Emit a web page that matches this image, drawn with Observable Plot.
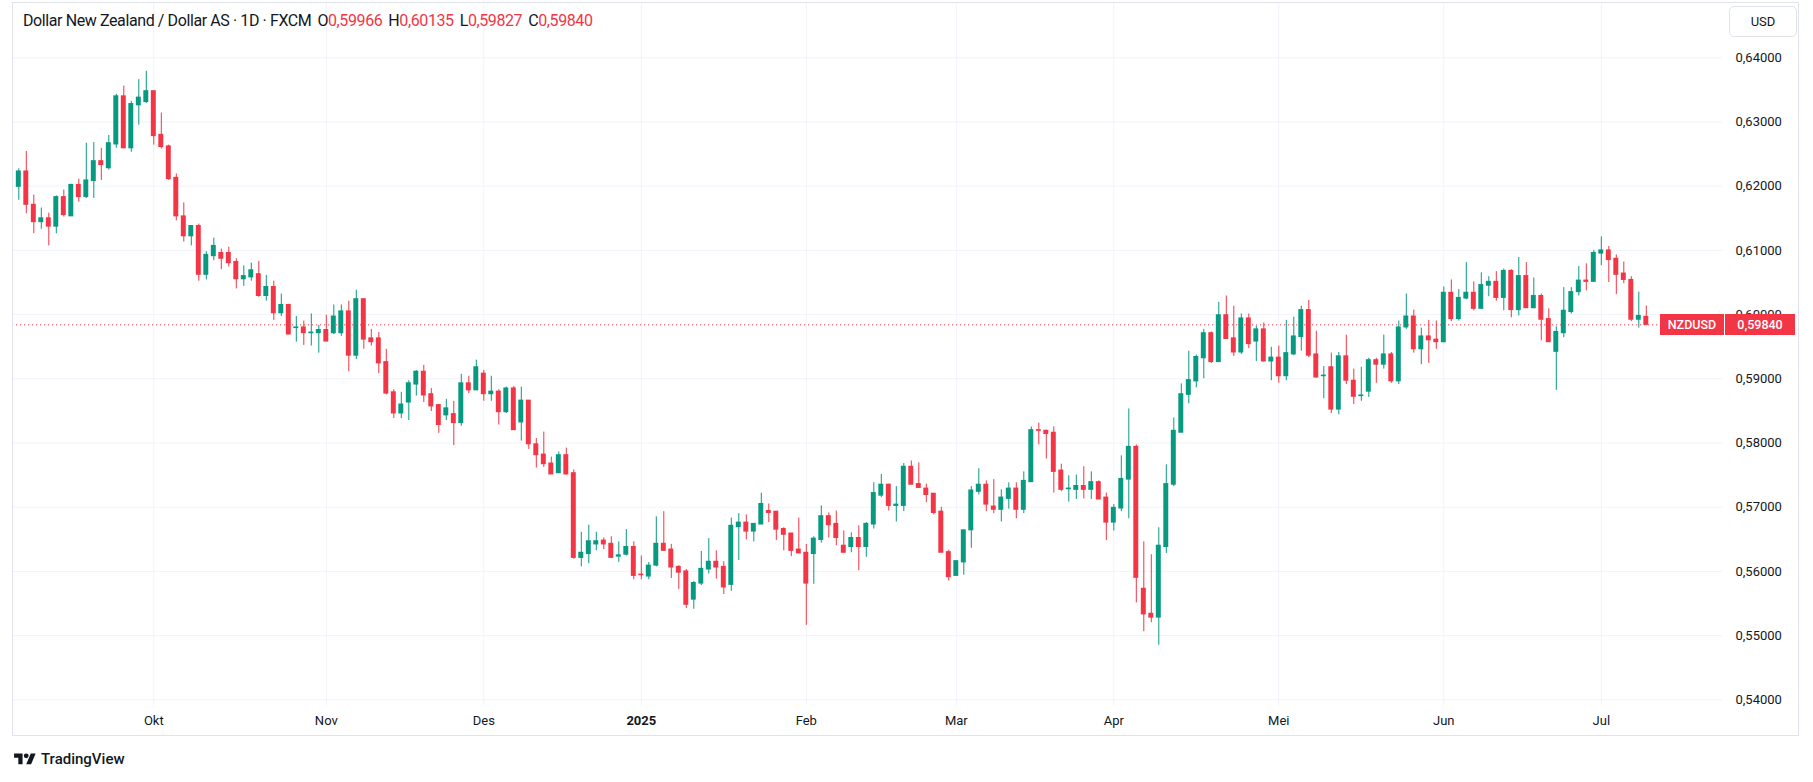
<!DOCTYPE html>
<html><head><meta charset="utf-8">
<script src="https://cdn.jsdelivr.net/npm/d3@7"></script>
<script src="https://cdn.jsdelivr.net/npm/@observablehq/plot@0.6"></script>
<style>
body{margin:0;background:#fff;font-family:Roboto,"Noto Sans",sans-serif;color:#131722;}
#wrap{position:relative;width:1813px;height:782px;overflow:hidden;}
#wrap > svg{position:absolute;left:0;top:0;}
.frame{position:absolute;left:12px;top:2px;width:1787px;height:734px;border:1px solid #e0e3eb;box-sizing:border-box;pointer-events:none;}
.hdr{position:absolute;left:23px;top:11px;font-size:16px;letter-spacing:-0.4px;white-space:pre;color:#131722;}
.hdr .g{margin-left:6px;}
.hdr .r{color:#f23645;}
.usd{position:absolute;left:1729px;top:6px;width:68px;height:31px;border:1px solid #e0e3eb;border-radius:5px;box-sizing:border-box;font-size:13px;display:flex;align-items:center;justify-content:center;background:#fff;}
.tag{position:absolute;height:21px;background:#f23645;color:#fff;font-size:12.5px;font-weight:500;display:flex;align-items:center;justify-content:center;}
.logo{position:absolute;left:14px;top:750px;display:flex;align-items:center;font-size:15px;font-weight:500;color:#131722;}
#wrap .logo svg{position:static;margin-right:5px;}
</style></head><body>
<div id="wrap"></div>
<script>
// ---- data (NZDUSD daily, FXCM) ----
const startDate = "2024-09-05";
const endDate = "2025-07-09";
const holidays = ["2024-12-25", "2025-01-01"];
const monthLabels = ["Okt","Nov","Des","2025","Feb","Mar","Apr","Mei","Jun","Jul"];
const yTicks = [0.54,0.55,0.56,0.57,0.58,0.59,0.60,0.61,0.62,0.63,0.64];
const lastPrice = 0.59840;
const headerOHLC = ["0,59966","0,60135","0,59827","0,59840"];

const openP = [0.6199,0.6223,0.6171,0.6144,0.6150,0.6137,0.6183,0.6153,0.6202,0.6183,
0.6208,0.6239,0.6228,0.6265,0.6340,0.6259,0.6326,0.6331,0.6348,0.6280,
0.6262,0.6213,0.6153,0.6122,0.6138,0.6062,0.6091,0.6096,0.6096,0.6082,
0.6055,0.6058,0.6063,0.6029,0.6043,0.6002,0.6015,0.5979,0.5980,0.5971,
0.5971,0.5976,0.5971,0.5971,0.6005,0.5936,0.6024,0.5963,0.5963,0.5926,
0.5879,0.5846,0.5863,0.5891,0.5911,0.5876,0.5859,0.5843,0.5845,0.5831,
0.5893,0.5882,0.5908,0.5876,0.5880,0.5848,0.5885,0.5832,0.5866,0.5798,
0.5782,0.5768,0.5753,0.5781,0.5753,0.5621,0.5627,0.5642,0.5648,0.5643,
0.5623,0.5626,0.5638,0.5595,0.5592,0.5609,0.5643,0.5634,0.5607,0.5600,
0.5556,0.5581,0.5603,0.5615,0.5607,0.5579,0.5669,0.5676,0.5662,0.5673,
0.5694,0.5693,0.5666,0.5659,0.5634,0.5629,0.5627,0.5649,0.5686,0.5674,
0.5640,0.5638,0.5652,0.5638,0.5673,0.5718,0.5735,0.5702,0.5702,0.5763,
0.5736,0.5729,0.5721,0.5693,0.5630,0.5593,0.5614,0.5664,0.5724,0.5735,
0.5701,0.5696,0.5713,0.5729,0.5696,0.5739,0.5820,0.5819,0.5816,0.5757,
0.5728,0.5727,0.5733,0.5727,0.5739,0.5715,0.5676,0.5698,0.5743,0.5794,
0.5573,0.5534,0.5528,0.5638,0.5735,0.5816,0.5875,0.5896,0.5932,0.5971,
0.5926,0.5999,0.5963,0.5941,0.5994,0.5958,0.5977,0.5927,0.5933,0.5904,
0.5938,0.5965,0.6007,0.5938,0.5904,0.5918,0.5852,0.5935,0.5897,0.5873,
0.5880,0.5929,0.5922,0.5938,0.5896,0.5980,0.5997,0.5946,0.5966,0.5961,
0.5957,0.6034,0.5993,0.6025,0.6034,0.6009,0.6045,0.6051,0.6026,0.6068,
0.6007,0.6060,0.6010,0.6029,0.5993,0.5942,0.5971,0.6004,0.6035,0.6053,
0.6051,0.6095,0.6100,0.6087,0.6064,0.6054,0.5992,0.59966];

const highP = [0.6227,0.6254,0.6186,0.6166,0.6158,0.6185,0.6194,0.6203,0.6211,0.6267,
0.6268,0.6259,0.6279,0.6343,0.6356,0.6332,0.6366,0.6379,0.6348,0.6314,
0.6264,0.6219,0.6174,0.6138,0.6141,0.6098,0.6119,0.6102,0.6105,0.6087,
0.6076,0.6080,0.6083,0.6061,0.6052,0.6032,0.6016,0.5997,0.5990,0.6001,
0.5983,0.5999,0.6015,0.6015,0.6021,0.6038,0.6024,0.5977,0.5972,0.5946,
0.5883,0.5879,0.5897,0.5913,0.5921,0.5885,0.5860,0.5868,0.5865,0.5907,
0.5904,0.5929,0.5913,0.5904,0.5883,0.5887,0.5888,0.5887,0.5866,0.5807,
0.5817,0.5778,0.5786,0.5792,0.5758,0.5661,0.5672,0.5661,0.5652,0.5654,
0.5646,0.5665,0.5646,0.5624,0.5614,0.5685,0.5693,0.5642,0.5609,0.5603,
0.5584,0.5631,0.5651,0.5632,0.5615,0.5683,0.5690,0.5688,0.5674,0.5722,
0.5705,0.5693,0.5668,0.5659,0.5683,0.5642,0.5654,0.5702,0.5691,0.5694,
0.5663,0.5660,0.5671,0.5676,0.5738,0.5751,0.5736,0.5732,0.5768,0.5772,
0.5769,0.5736,0.5721,0.5700,0.5633,0.5616,0.5664,0.5732,0.5760,0.5741,
0.5743,0.5727,0.5738,0.5738,0.5755,0.5825,0.5831,0.5820,0.5825,0.5767,
0.5749,0.5750,0.5763,0.5755,0.5741,0.5722,0.5704,0.5780,0.5853,0.5797,
0.5646,0.5626,0.5668,0.5766,0.5839,0.5892,0.5943,0.5937,0.5977,0.5973,
0.6019,0.6029,0.6013,0.6001,0.6001,0.5982,0.5987,0.5949,0.5951,0.5991,
0.5996,0.6013,0.6022,0.5974,0.5919,0.5940,0.5941,0.5968,0.5915,0.5918,
0.5932,0.5932,0.5968,0.5941,0.5990,0.6032,0.6007,0.5979,0.5991,0.5990,
0.6043,0.6054,0.6039,0.6081,0.6051,0.6065,0.6059,0.6067,0.6071,0.6070,
0.6089,0.6081,0.6057,0.6032,0.6009,0.5981,0.6042,0.6042,0.6075,0.6079,
0.6100,0.6121,0.6106,0.6093,0.6082,0.6059,0.6035,0.60135];

const lowP = [0.6178,0.6157,0.6126,0.6133,0.6107,0.6126,0.6152,0.6153,0.6175,0.6181,
0.6181,0.6209,0.6225,0.6259,0.6259,0.6253,0.6295,0.6329,0.6264,0.6258,
0.6209,0.6146,0.6113,0.6107,0.6052,0.6054,0.6084,0.6070,0.6074,0.6040,
0.6044,0.6052,0.6027,0.6021,0.5991,0.5997,0.5969,0.5957,0.5952,0.5951,
0.5940,0.5958,0.5969,0.5966,0.5911,0.5930,0.5946,0.5951,0.5908,0.5875,
0.5838,0.5838,0.5835,0.5873,0.5863,0.5849,0.5815,0.5835,0.5796,0.5826,
0.5877,0.5882,0.5865,0.5865,0.5828,0.5846,0.5820,0.5803,0.5790,0.5761,
0.5762,0.5751,0.5753,0.5750,0.5619,0.5607,0.5612,0.5632,0.5634,0.5621,
0.5614,0.5624,0.5587,0.5587,0.5587,0.5607,0.5632,0.5589,0.5572,0.5542,
0.5541,0.5578,0.5596,0.5588,0.5564,0.5569,0.5617,0.5649,0.5646,0.5673,
0.5676,0.5648,0.5632,0.5623,0.5628,0.5516,0.5580,0.5644,0.5652,0.5640,
0.5629,0.5629,0.5601,0.5622,0.5666,0.5715,0.5694,0.5677,0.5693,0.5735,
0.5729,0.5707,0.5688,0.5629,0.5585,0.5593,0.5594,0.5636,0.5719,0.5693,
0.5690,0.5677,0.5697,0.5682,0.5690,0.5739,0.5797,0.5775,0.5722,0.5724,
0.5708,0.5712,0.5713,0.5712,0.5712,0.5648,0.5663,0.5693,0.5682,0.5551,
0.5506,0.5520,0.5485,0.5628,0.5732,0.5816,0.5861,0.5886,0.5900,0.5924,
0.5926,0.5962,0.5935,0.5938,0.5947,0.5927,0.5926,0.5897,0.5893,0.5897,
0.5936,0.5943,0.5933,0.5901,0.5869,0.5846,0.5844,0.5891,0.5860,0.5865,
0.5871,0.5893,0.5915,0.5893,0.5891,0.5977,0.5940,0.5922,0.5924,0.5946,
0.5956,0.5989,0.5990,0.6023,0.6006,0.6009,0.6028,0.6021,0.6006,0.5995,
0.5998,0.6010,0.6009,0.5959,0.5957,0.5882,0.5964,0.6001,0.6029,0.6037,
0.6051,0.6076,0.6050,0.6031,0.6048,0.5989,0.5979,0.59827];

const closeP = [0.6223,0.6171,0.6144,0.6150,0.6137,0.6183,0.6155,0.6202,0.6183,0.6209,
0.6239,0.6233,0.6267,0.6340,0.6259,0.6328,0.6338,0.6348,0.6278,0.6261,
0.6211,0.6153,0.6122,0.6138,0.6062,0.6093,0.6107,0.6087,0.6080,0.6055,
0.6060,0.6069,0.6029,0.6043,0.6002,0.6015,0.5969,0.5980,0.5971,0.5972,
0.5976,0.5958,0.5997,0.6005,0.5936,0.6024,0.5961,0.5957,0.5924,0.5877,
0.5846,0.5860,0.5893,0.5911,0.5874,0.5857,0.5828,0.5854,0.5831,0.5893,
0.5882,0.5918,0.5876,0.5880,0.5848,0.5885,0.5820,0.5866,0.5798,0.5781,
0.5767,0.5751,0.5781,0.5751,0.5621,0.5629,0.5647,0.5647,0.5642,0.5621,
0.5625,0.5638,0.5593,0.5594,0.5609,0.5643,0.5632,0.5606,0.5598,0.5548,
0.5582,0.5604,0.5615,0.5606,0.5575,0.5671,0.5676,0.5662,0.5674,0.5705,
0.5691,0.5665,0.5657,0.5632,0.5628,0.5581,0.5651,0.5686,0.5672,0.5652,
0.5629,0.5652,0.5638,0.5674,0.5722,0.5735,0.5702,0.5704,0.5763,0.5735,
0.5730,0.5719,0.5691,0.5629,0.5591,0.5616,0.5664,0.5726,0.5735,0.5704,
0.5696,0.5715,0.5729,0.5696,0.5741,0.5820,0.5819,0.5814,0.5755,0.5727,
0.5729,0.5733,0.5727,0.5739,0.5712,0.5676,0.5699,0.5744,0.5794,0.5590,
0.5533,0.5528,0.5640,0.5736,0.5819,0.5876,0.5898,0.5934,0.5971,0.5926,
0.5999,0.5962,0.5941,0.5994,0.5954,0.5977,0.5927,0.5933,0.5904,0.5940,
0.5966,0.6007,0.5936,0.5902,0.5905,0.5852,0.5935,0.5897,0.5872,0.5874,
0.5929,0.5922,0.5938,0.5896,0.5980,0.5997,0.5946,0.5966,0.5960,0.5957,
0.6034,0.5993,0.6026,0.6034,0.6009,0.6046,0.6051,0.6026,0.6068,0.6007,
0.6060,0.6010,0.6029,0.5992,0.5957,0.5973,0.6006,0.6035,0.6053,0.6051,
0.6096,0.6100,0.6085,0.6062,0.6054,0.5992,0.5998,0.59840];

// ---- trading days (weekdays, minus holidays) ----
const parse = d3.utcParse("%Y-%m-%d");
const fmt = d3.utcFormat("%Y-%m-%d");
const dates = d3.utcDay.range(parse(startDate), d3.utcDay.offset(parse(endDate), 1))
  .filter(d => d.getUTCDay() !== 0 && d.getUTCDay() !== 6 && !holidays.includes(fmt(d)));

const data = dates.map((d, i) => ({i, date: d, o: openP[i], h: highP[i], l: lowP[i], c: closeP[i]}));
const tickIdx = [];
dates.forEach((d, i) => { if (i > 0 && d.getUTCMonth() !== dates[i-1].getUTCMonth()) tickIdx.push(i); });

const GREEN = "#089981", RED = "#f23645";
const dir = d => d.c >= d.o ? "up" : "down";
const comma = v => v.toFixed(5).replace(".", ",");

const chart = Plot.plot({
  width: 1813, height: 782,
  marginLeft: 12, marginRight: 91, marginTop: 2, marginBottom: 77,
  x: {type: "linear", domain: [-0.84, 227.16], label: null},
  y: {domain: [0.539112, 0.648614], label: null},
  color: {domain: ["up", "down"], range: [GREEN, RED]},
  style: {fontFamily: "Roboto, 'Noto Sans', sans-serif", fontSize: "13px", color: "#131722", background: "transparent", overflow: "visible"},
  marks: [
    Plot.gridY(yTicks, {stroke: "#f0f3fa", strokeOpacity: 1}),
    Plot.gridX(tickIdx, {stroke: "#f0f3fa", strokeOpacity: 1}),
    Plot.ruleY([lastPrice], {stroke: RED, strokeWidth: 1, strokeDasharray: "1.2,2.8"}),
    Plot.ruleX(data, {x: "i", y1: "l", y2: "h", stroke: dir, strokeWidth: 1}),
    Plot.rect(data, {x1: d => d.i - 0.33, x2: d => d.i + 0.33,
      y1: d => Math.min(d.o, d.c), y2: d => Math.max(d.o, d.c),
      fill: dir, insetTop: -0.5, insetBottom: -0.5}),
    Plot.axisY(yTicks, {anchor: "right", tickSize: 0, tickPadding: 13, tickFormat: comma, fill: "#131722", label: null}),
    Plot.axisX(tickIdx, {anchor: "bottom", tickSize: 0, tickPadding: 10, label: null,
      tickFormat: v => monthLabels[tickIdx.indexOf(v)], fill: "#131722"})
  ]
});

const wrap = document.getElementById("wrap");
wrap.appendChild(chart);
d3.select(chart).selectAll("text").filter(function(){ return this.textContent === "2025"; }).attr("font-weight", "bold");

// frame, header, price box, tags, logo
const frame = document.createElement("div"); frame.className = "frame"; wrap.appendChild(frame);

const hdr = document.createElement("div"); hdr.className = "hdr";
hdr.innerHTML = "Dollar New Zealand / Dollar AS · 1D · FXCM" +
  "<span class='g'>O<span class='r'>" + headerOHLC[0] + "</span></span>" +
  "<span class='g'>H<span class='r'>" + headerOHLC[1] + "</span></span>" +
  "<span class='g'>L<span class='r'>" + headerOHLC[2] + "</span></span>" +
  "<span class='g'>C<span class='r'>" + headerOHLC[3] + "</span></span>";
wrap.appendChild(hdr);

const usd = document.createElement("div"); usd.className = "usd"; usd.textContent = "USD"; wrap.appendChild(usd);

const yPix = chart.scale("y").apply(lastPrice);
const t1 = document.createElement("div"); t1.className = "tag"; t1.textContent = "NZDUSD";
t1.style.left = "1660px"; t1.style.width = "64px"; t1.style.top = (yPix - 10.5) + "px"; wrap.appendChild(t1);
const t2 = document.createElement("div"); t2.className = "tag"; t2.textContent = comma(lastPrice);
t2.style.left = "1725px"; t2.style.width = "70px"; t2.style.top = (yPix - 10.5) + "px"; wrap.appendChild(t2);

const logo = document.createElement("div"); logo.className = "logo";
logo.innerHTML = '<svg width="22" height="17" viewBox="0 0 36 28"><path d="M14 22H7V11H0V4h14v18z" fill="#131722"/><circle cx="20" cy="8" r="4" fill="#131722"/><path d="M28 22h-8l7.5-18h8L28 22z" fill="#131722"/></svg>TradingView';
wrap.appendChild(logo);
</script>
</body></html>
